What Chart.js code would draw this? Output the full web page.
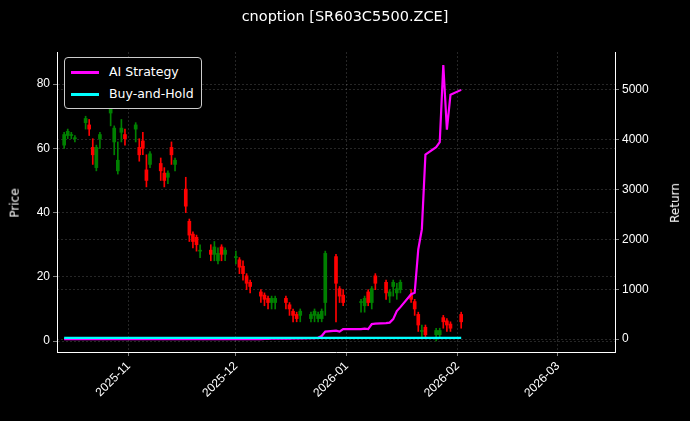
<!DOCTYPE html>
<html><head><meta charset="utf-8">
<script src="https://cdn.jsdelivr.net/npm/chart.js@4"></script>
<style>
body{margin:0;background:#000;font-family:"DejaVu Sans",sans-serif}
#wrap{position:relative;width:690px;height:421px}
#title{position:absolute;left:0;width:690px;top:8px;text-align:center;color:#fff;font-size:14.5px}
.ax{position:absolute;color:#fff;font-size:12px;transform:rotate(-90deg);transform-origin:center}
#legend{position:absolute;left:64px;top:57px;border:1px solid #ccc;border-radius:4px;background:#000;color:#fff;font-size:12.5px;padding:3px 7px 3px 6px;line-height:22px}
#legend span{display:inline-block;width:28px;height:3px;vertical-align:middle;margin-right:10px}
</style></head><body>
<div id="wrap"><canvas id="c" width="690" height="421"></canvas>
<div id="title">cnoption [SR603C5500.ZCE]</div>
<div class="ax" style="left:0px;top:196px">Price</div>
<div class="ax" style="left:655px;top:196px">Return</div>
<div id="legend"><div><span style="background:#ff00ff"></span>AI Strategy</div><div><span style="background:#00ffff"></span>Buy-and-Hold</div></div></div>
<script>
var dates = ["2025-10-14","2025-10-15","2025-10-16","2025-10-17","2025-10-20","2025-10-21","2025-10-22","2025-10-23","2025-10-24","2025-10-27","2025-10-28","2025-10-29","2025-10-30","2025-10-31","2025-11-03","2025-11-04","2025-11-05","2025-11-06","2025-11-07","2025-11-10","2025-11-11","2025-11-12","2025-11-13","2025-11-14","2025-11-17","2025-11-18","2025-11-19","2025-11-20","2025-11-21","2025-11-24","2025-11-25","2025-11-26","2025-11-27","2025-11-28","2025-12-01","2025-12-02","2025-12-03","2025-12-04","2025-12-05","2025-12-08","2025-12-09","2025-12-10","2025-12-11","2025-12-12","2025-12-15","2025-12-16","2025-12-17","2025-12-18","2025-12-19","2025-12-22","2025-12-23","2025-12-24","2025-12-25","2025-12-26","2025-12-29","2025-12-30","2025-12-31","2026-01-05","2026-01-06","2026-01-07","2026-01-08","2026-01-09","2026-01-12","2026-01-13","2026-01-14","2026-01-15","2026-01-16","2026-01-19","2026-01-20","2026-01-21","2026-01-22","2026-01-23","2026-01-26","2026-01-27","2026-01-28","2026-01-29","2026-01-30","2026-02-02"];
var opens  = [61,64,64,63,68,67,60,54,63,71,62,53,65,64,66,60,62,53,55,55,52,51,60,55,47,37,33,32,28,28,27,25,29,27,26,25,23,20,18,15,14,13,12,12,13,11,9,8,8,7,8,7,7,12,26,16,14,12,11,15,12,20,18,14,17,15,16,14,12,8,3,4,2,2,7,6,5,8,5];
var closes = [64,65,64,63,69,66,58,60,64,72,66,56,66,63,67,58,60,50,58,53,50,52,58,56,42,33,31,30,28,27,29,27,27,28,26,23,21,18,17,14,13,12,13,13,12,10,8,7,9,8,9,8,9,27,18,14,12,12,13,12,16,18,15,15,18,16,18,13,10,5,3,2,3,3,6,5,4,6,7];
var highs  = [65,66,65,64,70,69,63,61,65,73,67,62,69,66,68,63,65,58,59,57,54,53,62,57,51,38,34,33,30,30,31,29,30,29,28,26,25,21,19,16,15,14,14,14,14,12,10,9,10,9,10,9,10,28,27,17,16,13,14,16,17,21,19,16,19,18,19,16,13,9,5,5,4,4,8,7,6,9,10];
var lows   = [60,63,63,62,66,64,55,53,60,67,58,52,62,61,62,56,58,48,54,50,48,49,55,53,40,31,29,28,26,25,25,24,25,25,24,21,19,16,15,12,11,10,10,10,10,8,6,6,6,6,6,6,6,8,6,12,11,9,9,11,10,16,13,12,14,13,15,12,8,3,1,1,0,1,4,3,3,4,4];
var aiReturn = [0,0,0,0,0,0,0,0,0,0,0,0,0,0,0,0,0,0,0,0,0,0,0,0,0,0,0,0,0,0,0,0,0,0,0,0,0,0,0,0,5,5,8,8,10,10,12,15,15,18,20,25,60,150,170,150,200,200,210,200,300,310,320,330,400,560,640,900,930,1800,2200,3700,3850,3950,5500,4200,4900,5000];
var holdReturn = [];
for (var i = 0; i < dates.length; i++) holdReturn.push(25);
var monthTicks = ["2025-11-01","2025-12-01","2026-01-01","2026-02-01","2026-03-01"];

var ts = dates.map(function(d){ return Date.parse(d + "T00:00:00Z"); });
var col = function(i){ return closes[i] >= opens[i] ? '#008000' : '#ff0000'; };
var wick = ts.map(function(t,i){ return {x:t, y:[lows[i], highs[i]]}; });
var body = ts.map(function(t,i){ return {x:t, y:[Math.min(opens[i],closes[i]), Math.max(opens[i],closes[i])+0.3]}; });
var cols = ts.map(function(t,i){ return col(i); });
var grid = {color:'rgba(255,255,255,0.3)', lineWidth:0.5, tickLength:4, tickColor:'#fff', offset:false};
var border = {color:'#fff', dash:[2,2]};

new Chart(document.getElementById('c'), {
    data: { datasets: [
        { type:'bar', data:wick, backgroundColor:cols, barThickness:1, grouped:false, yAxisID:'y', order:3 },
        { type:'bar', data:body, backgroundColor:cols, barThickness:3, grouped:false, yAxisID:'y', order:2 },
        { type:'line', data:ts.map(function(t,i){return {x:t,y:aiReturn[i]};}), borderColor:'#ff00ff', borderWidth:2.2, pointRadius:0, yAxisID:'y1', order:1 },
        { type:'line', data:ts.map(function(t,i){return {x:t,y:holdReturn[i]};}), borderColor:'#00ffff', borderWidth:2.2, pointRadius:0, yAxisID:'y1', order:0 }
    ]},
    options: {
        responsive:false, animation:false,
        layout:{padding:{top:52,right:0,left:0,bottom:0}},
        plugins:{ legend:{display:false}, tooltip:{enabled:false} },
        scales:{
            x:{ type:'linear', offset:false, min:Date.parse("2025-10-12T00:00:00Z"), max:Date.parse("2026-03-17T00:00:00Z"),
                afterBuildTicks:function(a){ a.ticks = monthTicks.map(function(m){ return {value:Date.parse(m+"T00:00:00Z")}; }); },
                afterFit:function(a){ a.height = 69; },
                ticks:{ color:'#fff', maxRotation:45, minRotation:45, font:{size:12}, callback:function(v){ var d=new Date(v); return d.getUTCFullYear()+'-'+String(d.getUTCMonth()+1).padStart(2,'0'); } },
                grid:grid, border:border },
            y:{ position:'left', min:-3.4, max:90, afterBuildTicks:function(a){ a.ticks=[0,20,40,60,80].map(function(v){return {value:v};}); },
                afterFit:function(a){ a.width = 57; },
                ticks:{color:'#fff', font:{size:12}}, grid:grid, border:border },
            y1:{ position:'right', min:-260, max:5760, afterBuildTicks:function(a){ a.ticks=[0,1000,2000,3000,4000,5000].map(function(v){return {value:v};}); },
                afterFit:function(a){ a.width = 75; },
                ticks:{color:'#fff', font:{size:12}, callback:function(v){ return String(v); }}, grid:grid, border:border }
        }
    }
});
</script></body></html>
